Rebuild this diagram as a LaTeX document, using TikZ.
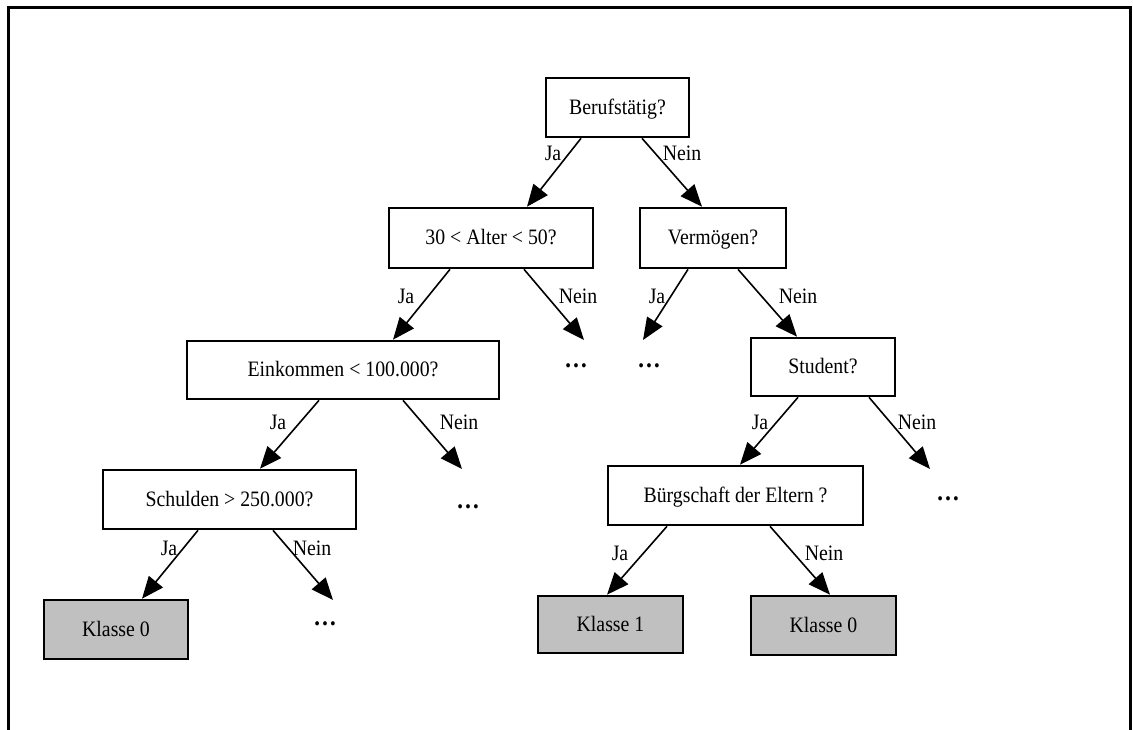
\documentclass[tikz,border=0pt]{standalone}
\usepackage{fontspec}
\setmainfont{Liberation Serif}[FakeStretch=0.9]
\usetikzlibrary{arrows.meta}
\definecolor{leafgray}{RGB}{192,192,192}
\tikzset{
  txt/.style={font=\fontsize{22}{26}\selectfont, inner sep=0pt, text height=16pt, text depth=3pt},
  question/.style={txt, draw=black, line width=2.6pt, fill=white},
  leaf/.style={question, fill=leafgray},
  branch/.style={line width=1.6pt, -{Triangle[length=22pt, width=18pt]}},
  answer/.style={txt},
  more/.style={txt, font=\fontsize{26}{30}\selectfont\bfseries}
}
\begin{document}
\begin{tikzpicture}[x=1pt, y=-1pt]
  \useasboundingbox (0,0) rectangle (1133,729);
  % outer frame, open at the bottom
  \draw[line width=2.6pt] (8.5,735) -- (8.5,7.2) -- (1130.5,7.2) -- (1130.5,735);

  % decision nodes
  \node[question, minimum width=143pt, minimum height=59pt] (beruf) at (617.5,107.5) {Berufstätig?};
  \node[question, minimum width=204pt, minimum height=60pt] (alter) at (491,238) {30 < Alter < 50?};
  \node[question, minimum width=146pt, minimum height=60pt] (verm)  at (713,238) {Vermögen?};
  \node[question, minimum width=312pt, minimum height=58pt] (eink)  at (343,370) {Einkommen < 100.000?};
  \node[question, minimum width=144pt, minimum height=58pt] (stud)  at (823,367) {Student?};
  \node[question, minimum width=253pt, minimum height=59pt] (schul) at (229.5,499.5) {Schulden > 250.000?};
  \node[question, minimum width=255pt, minimum height=59pt] (buerg) at (735.5,495.5) {Bürgschaft der Eltern ?};

  % class leaves
  \node[leaf, minimum width=144pt, minimum height=59pt] (kA) at (116,629.5) {Klasse 0};
  \node[leaf, minimum width=145pt, minimum height=57pt] (kB) at (610.5,624.5) {Klasse 1};
  \node[leaf, minimum width=145pt, minimum height=59pt] (kC) at (823.5,625.5) {Klasse 0};

  % open subtrees
  \coordinate (tA) at (584,340);
  \coordinate (tB) at (643,340);
  \coordinate (tC) at (462,469);
  \coordinate (tD) at (333,600);
  \coordinate (tE) at (930,469);
  \node[more] (mA) at (576,360.5) {…};
  \node[more] (mB) at (649,360.5) {…};
  \node[more] (mC) at (468,501.5) {…};
  \node[more] (mD) at (325,618.5) {…};
  \node[more] (mE) at (948,493.5) {…};

  % branches
  \draw[branch] ([xshift=-36.5pt]beruf.south) -- ([xshift=36pt]alter.north);
  \draw[branch] ([xshift=24.5pt]beruf.south) -- ([xshift=-11pt]verm.north);
  \draw[branch] ([xshift=-41pt]alter.south) -- ([xshift=50pt]eink.north);
  \draw[branch] ([xshift=33pt]alter.south) -- (tA);
  \draw[branch] ([xshift=-25pt]verm.south) -- (tB);
  \draw[branch] ([xshift=25pt]verm.south) -- ([xshift=-26pt]stud.north);
  \draw[branch] ([xshift=-24pt]eink.south) -- ([xshift=30.5pt]schul.north);
  \draw[branch] ([xshift=60pt]eink.south) -- (tC);
  \draw[branch] ([xshift=-25pt]stud.south) -- ([xshift=4.5pt]buerg.north);
  \draw[branch] ([xshift=46pt]stud.south) -- (tE);
  \draw[branch] ([xshift=-31.5pt]schul.south) -- ([xshift=26pt]kA.north);
  \draw[branch] ([xshift=43.5pt]schul.south) -- (tD);
  \draw[branch] ([xshift=-68.5pt]buerg.south) -- ([xshift=-3.5pt]kB.north);
  \draw[branch] ([xshift=34.5pt]buerg.south) -- ([xshift=6.5pt]kC.north);

  % branch labels
  \node[answer] (l1j) at (553,154) {Ja};
  \node[answer] (l1n) at (682,154) {Nein};
  \node[answer] (l2j) at (406,297) {Ja};
  \node[answer] (l2n) at (578,297) {Nein};
  \node[answer] (l3j) at (657,297) {Ja};
  \node[answer] (l3n) at (798,297) {Nein};
  \node[answer] (l4j) at (278,423) {Ja};
  \node[answer] (l4n) at (459,423) {Nein};
  \node[answer] (l5j) at (169,549) {Ja};
  \node[answer] (l5n) at (312,549) {Nein};
  \node[answer] (l6j) at (760,423) {Ja};
  \node[answer] (l6n) at (917,423) {Nein};
  \node[answer] (l7j) at (620,554) {Ja};
  \node[answer] (l7n) at (824,554) {Nein};
\end{tikzpicture}
\end{document}
